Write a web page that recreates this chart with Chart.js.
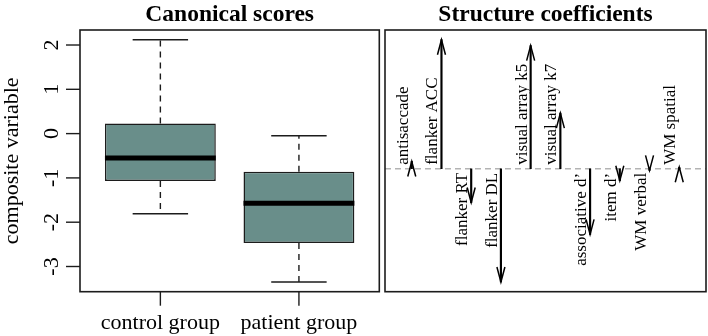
<!DOCTYPE html>
<html>
<head>
<meta charset="utf-8">
<script src="https://cdn.jsdelivr.net/npm/chart.js@4"></script>
<style>
  html, body { margin: 0; padding: 0; background: #fff; }
  #wrap { position: relative; width: 708px; height: 336px; }
  canvas { position: absolute; top: 0; }
</style>
</head>
<body>
<div id="wrap">
  <canvas id="scores" width="382" height="336" style="left:0"></canvas>
  <canvas id="coefs" width="326" height="336" style="left:382px"></canvas>
</div>
<script>
// left panel: canonical scores per group (boxplot stats)
const groups = ["control group", "patient group"];
const whiskerLow = [-1.81, -3.35];
const boxLow = [-1.07, -2.47];
const medians = [-0.55, -1.57];
const boxHigh = [0.23, -0.86];
const whiskerHigh = [2.12, -0.05];
const scoreTicks = [-3, -2, -1, 0, 1, 2];

// right panel: structure coefficients
const measures = ["antisaccade", "flanker ACC", "flanker RT", "flanker DL", "visual array k5",
    "visual array k7", "associative d’", "item d’", "WM verbal", "WM spatial"];
const coefficients = [0.037, 0.65, -0.17, -0.57, 0.62, 0.28, -0.33, -0.06, -0.008, 0.008];

const serif = "'Liberation Serif', 'Times New Roman', serif";
const ink = "#1c1c1c";

// R-style axis range: data range stretched by 4% on each side
const padRange = (lo, hi) => {
    const d = (hi - lo) * 0.04;
    return [lo - d, hi + d];
};

const drawFrame = (chart) => {
    const { ctx, chartArea: a } = chart;
    ctx.save();
    ctx.strokeStyle = ink;
    ctx.lineWidth = 1.6;
    ctx.strokeRect(a.left, a.top, a.right - a.left, a.bottom - a.top);
    ctx.restore();
};

const drawTitle = (chart, text) => {
    const { ctx, chartArea: a } = chart;
    ctx.save();
    ctx.fillStyle = "#000";
    ctx.font = `bold 23.5px ${serif}`;
    ctx.textAlign = "center";
    ctx.textBaseline = "alphabetic";
    ctx.fillText(text, (a.left + a.right) / 2, 21);
    ctx.restore();
};

// vertical text, reading bottom to top
const upText = (ctx, text, x, y, align) => {
    ctx.save();
    ctx.translate(x, y);
    ctx.rotate(-Math.PI / 2);
    ctx.textAlign = align;
    ctx.textBaseline = "alphabetic";
    ctx.fillText(text, 0, 0);
    ctx.restore();
};

const boxPlot = {
    id: "boxPlot",
    afterDatasetsDraw(chart) {
        const { ctx } = chart;
        const y = chart.scales.y;
        const bars = chart.getDatasetMeta(0).data;
        ctx.save();
        bars.forEach((bar, i) => {
            const half = bar.width / 2;
            ctx.strokeStyle = ink;
            ctx.lineWidth = 1.4;
            ctx.setLineDash([6, 5]);
            ctx.beginPath();
            ctx.moveTo(bar.x, y.getPixelForValue(boxHigh[i]));
            ctx.lineTo(bar.x, y.getPixelForValue(whiskerHigh[i]));
            ctx.moveTo(bar.x, y.getPixelForValue(boxLow[i]));
            ctx.lineTo(bar.x, y.getPixelForValue(whiskerLow[i]));
            ctx.stroke();
            ctx.setLineDash([]);
            ctx.beginPath();
            [whiskerHigh[i], whiskerLow[i]].forEach((v) => {
                const py = y.getPixelForValue(v);
                ctx.moveTo(bar.x - half / 2, py);
                ctx.lineTo(bar.x + half / 2, py);
            });
            ctx.stroke();
            // median
            const my = y.getPixelForValue(medians[i]);
            ctx.strokeStyle = "#000";
            ctx.lineWidth = 5;
            ctx.beginPath();
            ctx.moveTo(bar.x - half, my);
            ctx.lineTo(bar.x + half, my);
            ctx.stroke();
        });
        ctx.restore();
    },
    afterDraw(chart) {
        const { ctx, chartArea: a, scales: { x, y } } = chart;
        drawFrame(chart);
        drawTitle(chart, "Canonical scores");
        ctx.save();
        ctx.strokeStyle = ink;
        ctx.fillStyle = "#000";
        ctx.lineWidth = 1.4;
        ctx.font = `22px ${serif}`;
        scoreTicks.forEach((t) => {
            const py = y.getPixelForValue(t);
            ctx.beginPath();
            ctx.moveTo(a.left, py);
            ctx.lineTo(a.left - 14, py);
            ctx.stroke();
            upText(ctx, String(t), a.left - 22, py, "center");
        });
        groups.forEach((g, i) => {
            const px = x.getPixelForValue(i + 1);
            ctx.beginPath();
            ctx.moveTo(px, a.bottom);
            ctx.lineTo(px, a.bottom + 14);
            ctx.stroke();
            ctx.textAlign = "center";
            ctx.textBaseline = "alphabetic";
            ctx.fillText(g, px, a.bottom + 37.5);
        });
        upText(ctx, "composite variable", 18, (a.top + a.bottom) / 2, "center");
        ctx.restore();
    }
};

const arrows = {
    id: "arrows",
    beforeDatasetsDraw(chart) {
        const { ctx, chartArea: a, scales: { y } } = chart;
        const py = y.getPixelForValue(0);
        ctx.save();
        ctx.strokeStyle = "#b3b3b3";
        ctx.lineWidth = 1.5;
        ctx.setLineDash([6, 4]);
        ctx.beginPath();
        ctx.moveTo(a.left, py);
        ctx.lineTo(a.right, py);
        ctx.stroke();
        ctx.restore();
    },
    afterDatasetsDraw(chart) {
        const { ctx, scales: { y } } = chart;
        const zero = y.getPixelForValue(0);
        const bars = chart.getDatasetMeta(0).data;
        ctx.save();
        ctx.strokeStyle = "#000";
        ctx.fillStyle = "#000";
        ctx.lineWidth = 1.5;
        ctx.font = `17px ${serif}`;
        bars.forEach((bar, i) => {
            const dir = coefficients[i] >= 0 ? 1 : -1;
            // arrow head: fixed size, back from the tip
            ctx.beginPath();
            ctx.moveTo(bar.x - 4, bar.y + dir * 15);
            ctx.lineTo(bar.x, bar.y);
            ctx.lineTo(bar.x + 4, bar.y + dir * 15);
            ctx.stroke();
            if (dir > 0) {
                upText(ctx, measures[i], bar.x - 4, zero - 4, "left");
            } else {
                upText(ctx, measures[i], bar.x - 4, zero + 4, "right");
            }
        });
        ctx.restore();
    },
    afterDraw(chart) {
        drawFrame(chart);
        drawTitle(chart, "Structure coefficients");
    }
};

const [sMin, sMax] = padRange(Math.min(...whiskerLow), Math.max(...whiskerHigh));
const [gMin, gMax] = padRange(0.5, groups.length + 0.5);

new Chart(document.getElementById("scores"), {
    type: "bar",
    data: {
        datasets: [
            {
                data: groups.map((g, i) => ({ x: i + 1, y: [boxLow[i], boxHigh[i]] })),
                backgroundColor: "#698e8a",
                borderColor: ink,
                borderWidth: 1.5,
                borderSkipped: false,
                barPercentage: 0.8,
                categoryPercentage: 1
            }
        ]
    },
    options: {
        responsive: false,
        animation: false,
        events: [],
        layout: { padding: { left: 80, right: 2.7, top: 30, bottom: 44.3 } },
        plugins: { legend: { display: false }, tooltip: { enabled: false } },
        scales: {
            x: {
                type: "linear",
                min: gMin,
                max: gMax,
                offset: false,
                display: false,
                afterBuildTicks: (axis) => {
                    axis.ticks = groups.map((g, i) => ({ value: i + 1 }));
                }
            },
            y: { min: sMin, max: sMax, display: false }
        }
    },
    plugins: [boxPlot]
});

const [cMin, cMax] = padRange(Math.min(...coefficients), Math.max(...coefficients));
const [mMin, mMax] = padRange(0.5, measures.length + 0.5);

new Chart(document.getElementById("coefs"), {
    type: "bar",
    data: {
        datasets: [
            {
                data: measures.map((m, i) => ({ x: i + 1, y: [0, coefficients[i]] })),
                backgroundColor: "#000",
                borderWidth: 0,
                barThickness: 1.5
            }
        ]
    },
    options: {
        responsive: false,
        animation: false,
        events: [],
        layout: { padding: { left: 3, right: 2, top: 30, bottom: 44.3 } },
        plugins: { legend: { display: false }, tooltip: { enabled: false } },
        scales: {
            x: { type: "linear", min: mMin, max: mMax, offset: false, display: false },
            y: { min: cMin, max: cMax, display: false }
        }
    },
    plugins: [arrows]
});
</script>
</body>
</html>
